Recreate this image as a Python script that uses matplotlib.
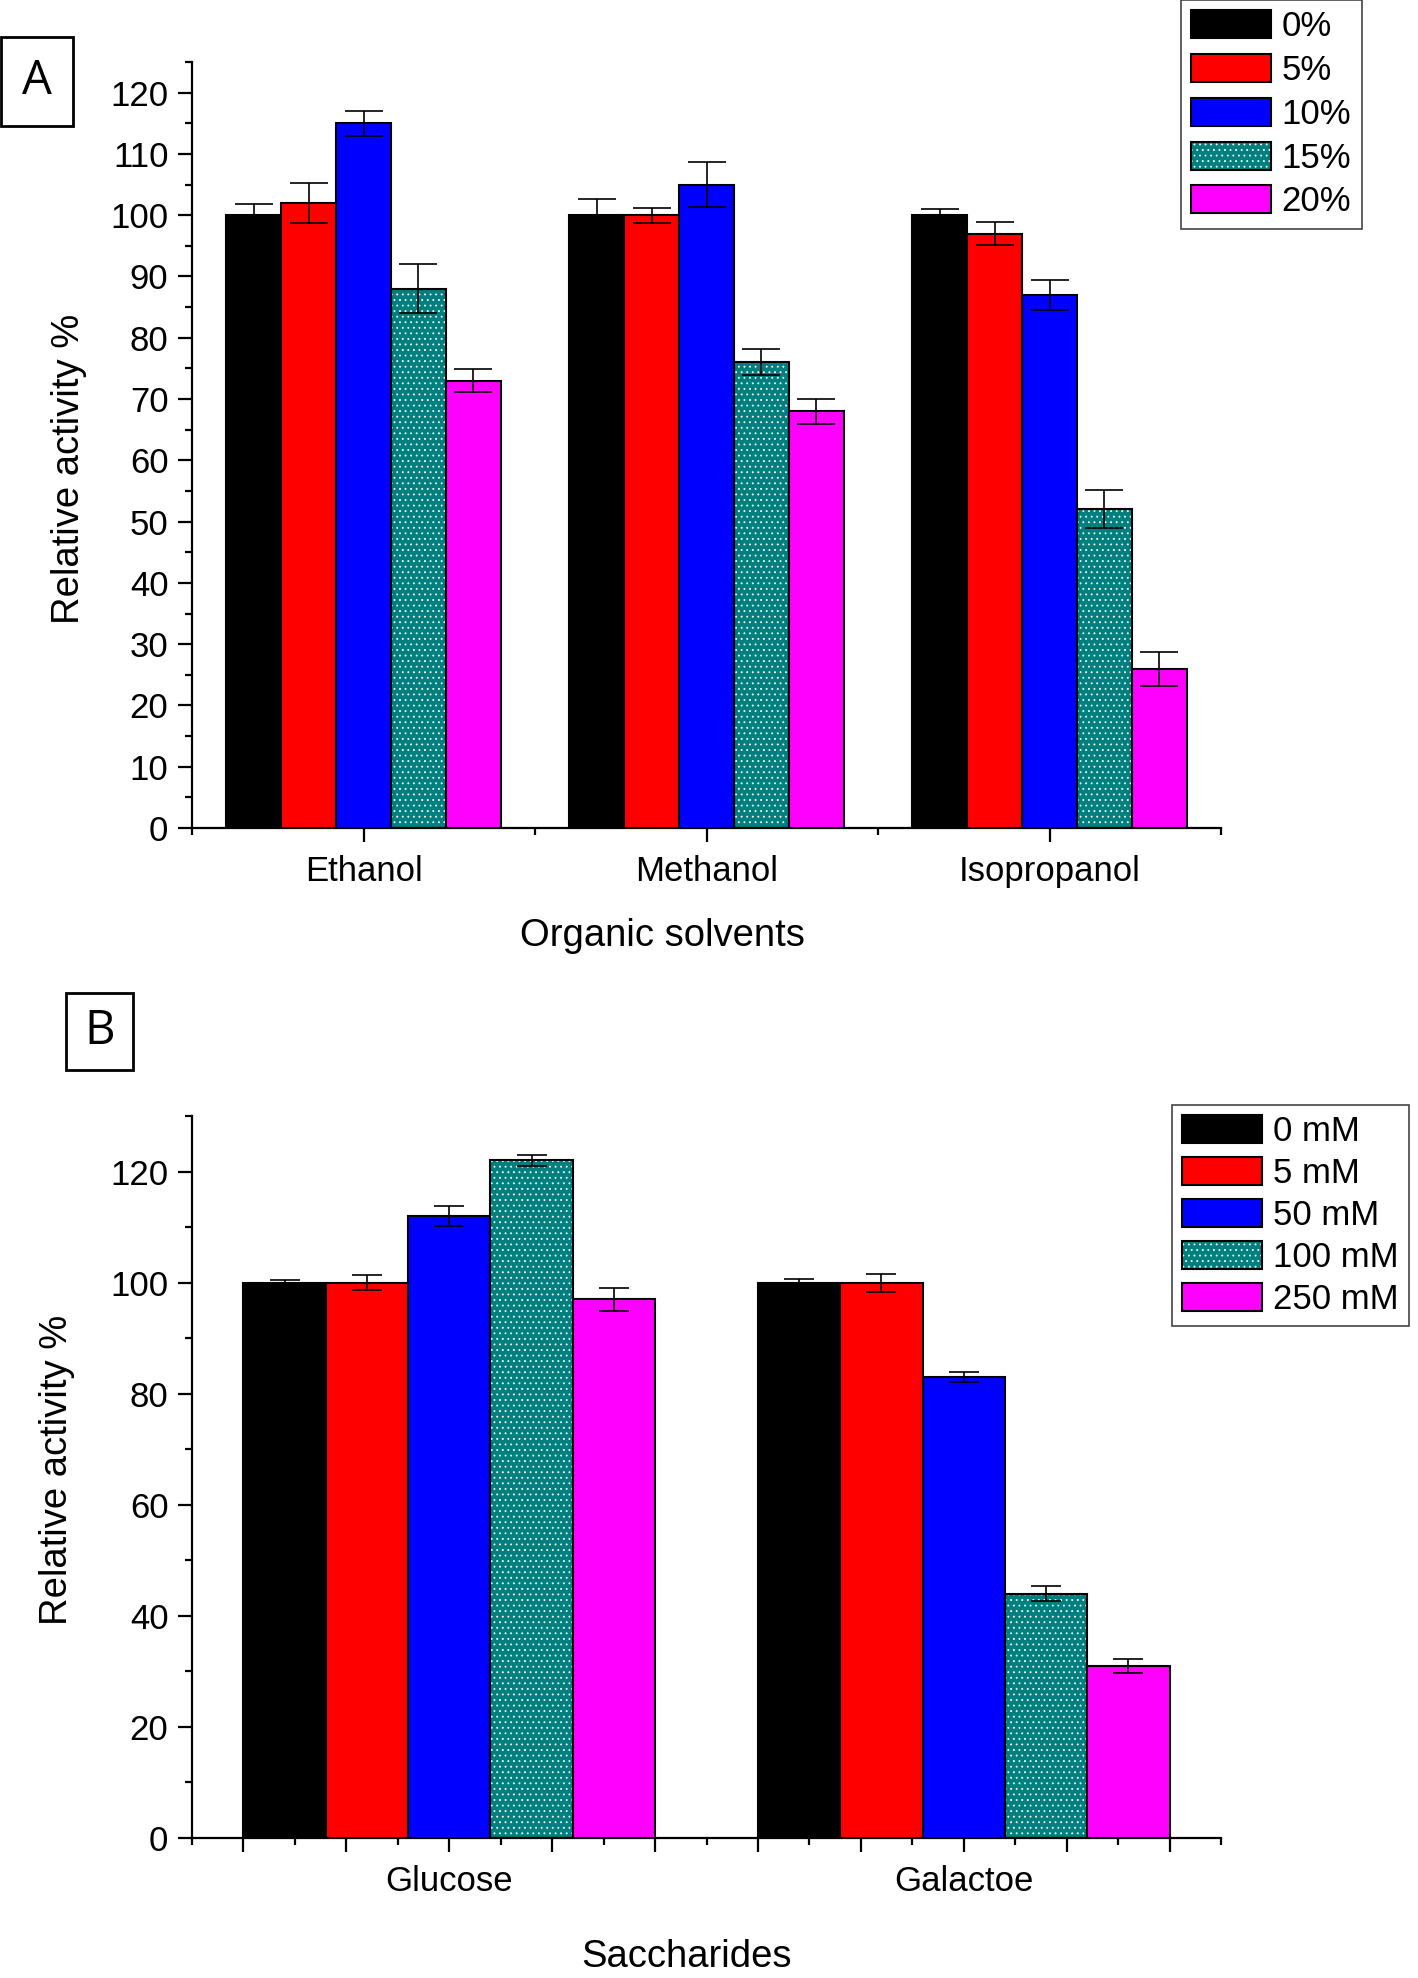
import matplotlib
matplotlib.use("Agg")
import matplotlib.pyplot as plt
from matplotlib.patches import Patch, Rectangle
from matplotlib.ticker import MultipleLocator, FixedLocator
from matplotlib.legend_handler import HandlerTuple
import numpy as np

plt.rcParams['font.family'] = ['Liberation Sans', 'DejaVu Sans']
plt.rcParams['hatch.linewidth'] = 0.6

# ---------------- data ----------------
solvents = ['Ethanol', 'Methanol', 'Isopropanol']
labels_A = ['0%', '5%', '10%', '15%', '20%']
a_0 = [100, 100, 100]
a_5 = [102, 100, 97]
a_10 = [115, 105, 87]
a_15 = [88, 76, 52]
a_20 = [73, 68, 26]
a_err_0 = [1.8, 2.6, 1.0]
a_err_5 = [3.2, 1.2, 1.9]
a_err_10 = [2.0, 3.7, 2.5]
a_err_15 = [4.0, 2.1, 3.1]
a_err_20 = [1.9, 2.0, 2.8]

sugars = ['Glucose', 'Galactoe']
labels_B = ['0 mM', '5 mM', '50 mM', '100 mM', '250 mM']
b_0 = [100, 100]
b_5 = [100, 100]
b_50 = [112, 83]
b_100 = [122, 44]
b_250 = [97, 31]
b_err_0 = [0.5, 0.7]
b_err_5 = [1.3, 1.6]
b_err_50 = [1.8, 0.9]
b_err_100 = [1.0, 1.3]
b_err_250 = [2.1, 1.25]

colors = ['#000000', '#FF0000', '#0000FF', '#007F7F', '#FF00FF']
hatches = [None, None, None, '...', None]

W, H = 1418, 1978
fig = plt.figure(figsize=(W / 100, H / 100), dpi=100)
fig.patch.set_facecolor('white')


def fx(px):
    return px / W


def fy(py):
    return 1 - py / H


def draw_group(ax, cats, series, errs, capsize):
    x = np.arange(1, len(cats) + 1)
    bw = 0.16
    for j, (vals, err) in enumerate(zip(series, errs)):
        pos = x + (j - 2) * bw
        if hatches[j]:
            ax.bar(pos, vals, width=bw, color=colors[j], edgecolor='white',
                   hatch=hatches[j], linewidth=0, zorder=2)
            ax.bar(pos, vals, width=bw, fill=False, edgecolor='black',
                   linewidth=1.5, zorder=3)
        else:
            ax.bar(pos, vals, width=bw, color=colors[j], edgecolor='black',
                   linewidth=1.5, zorder=3)
        ax.errorbar(pos, vals, yerr=err, fmt='none', ecolor='black',
                    elinewidth=1.2, capsize=capsize, capthick=1.2, zorder=4)


def style_axes(ax):
    for s in ['top', 'right']:
        ax.spines[s].set_visible(False)
    for s in ['left', 'bottom']:
        ax.spines[s].set_linewidth(1.6)
    ax.tick_params(axis='both', which='major', length=10, width=1.6,
                   labelsize=25, direction='out')
    ax.tick_params(axis='both', which='minor', length=5, width=1.6,
                   direction='out')
    ax.tick_params(axis='y', which='major', pad=7)
    ax.tick_params(axis='x', which='major', pad=9.5)
    ax.set_facecolor('none')


def legend_handles():
    hs = []
    for j in range(5):
        if hatches[j]:
            hs.append((Patch(facecolor=colors[j], edgecolor='white', hatch=hatches[j], linewidth=0),
                       Patch(fill=False, edgecolor='black', linewidth=1.5)))
        else:
            hs.append(Patch(facecolor=colors[j], edgecolor='black', linewidth=1.5))
    return hs


# ---------------- panel A ----------------
axA = fig.add_axes([fx(192), fy(828), fx(1221 - 192), (828 - 62) / H])
draw_group(axA, solvents, [a_0, a_5, a_10, a_15, a_20],
           [a_err_0, a_err_5, a_err_10, a_err_15, a_err_20], capsize=14)
axA.set_xlim(0.5, 3.5)
axA.set_ylim(0, 125)
axA.yaxis.set_major_locator(MultipleLocator(10))
axA.yaxis.set_minor_locator(MultipleLocator(5))
axA.xaxis.set_major_locator(FixedLocator([1, 2, 3]))
axA.xaxis.set_minor_locator(FixedLocator([0.5, 1.5, 2.5, 3.5]))
axA.set_xticklabels(solvents)
style_axes(axA)

# ---------------- panel B ----------------
axB = fig.add_axes([fx(192), fy(1838), fx(1221 - 192), (1838 - 1116) / H])
draw_group(axB, sugars, [b_0, b_5, b_50, b_100, b_250],
           [b_err_0, b_err_5, b_err_50, b_err_100, b_err_250], capsize=11)
axB.set_xlim(0.5, 2.5)
axB.set_ylim(0, 130)
axB.yaxis.set_major_locator(MultipleLocator(20))
axB.yaxis.set_minor_locator(MultipleLocator(10))
majB = [round(0.6 + 0.2 * k, 2) for k in range(10)]
minB = [round(0.5 + 0.2 * k, 2) for k in range(11)]
axB.xaxis.set_major_locator(FixedLocator(majB))
axB.xaxis.set_minor_locator(FixedLocator(minB))
axB.set_xticklabels(['Glucose' if abs(v - 1) < 1e-6 else ('Galactoe' if abs(v - 2) < 1e-6 else '')
                     for v in majB])
style_axes(axB)

# ---------------- legends ----------------
legkw = dict(loc='upper left', borderaxespad=0, fancybox=False, fontsize=25,
             handlelength=2.28, handleheight=0.86, handletextpad=0.32,
             borderpad=0.3, framealpha=1,
             handler_map={tuple: HandlerTuple(ndivide=1, pad=0)})
legA = fig.legend(legend_handles(), labels_A, bbox_to_anchor=(fx(1181), fy(0)),
                  labelspacing=0.31, **legkw)
legA.get_frame().set_edgecolor('#444444')
legA.get_frame().set_linewidth(1.2)
legB = fig.legend(legend_handles(), labels_B, bbox_to_anchor=(fx(1172), fy(1105)),
                  labelspacing=0.255, **legkw)
legB.get_frame().set_edgecolor('#444444')
legB.get_frame().set_linewidth(1.2)

# ---------------- axis titles ----------------
fig.text(fx(69), fy(469), 'Relative activity %', rotation=90, ha='center', va='center', fontsize=27.5)
fig.text(fx(57), fy(1470), 'Relative activity %', rotation=90, ha='center', va='center', fontsize=27.5)
fig.text(fx(662), fy(946), 'Organic solvents', ha='center', va='baseline', fontsize=27.5)
fig.text(fx(686), fy(1975), 'Saccharides', ha='center', va='bottom', fontsize=27.5)

# ---------------- panel letters ----------------
for (x0, y0, x1, y1, letter) in [(1, 37, 73, 126, 'A'), (66, 993, 133, 1070, 'B')]:
    fig.add_artist(Rectangle((fx(x0), fy(y1)), fx(x1 - x0), (y1 - y0) / H,
                             transform=fig.transFigure, fill=False, edgecolor='black', linewidth=2))
    fig.text(fx((x0 + x1) / 2), fy((y0 + y1) / 2), letter, ha='center', va='center',
             fontsize=34, family=['Open Sans', 'DejaVu Sans'])

fig.savefig('out.png', dpi=100)
